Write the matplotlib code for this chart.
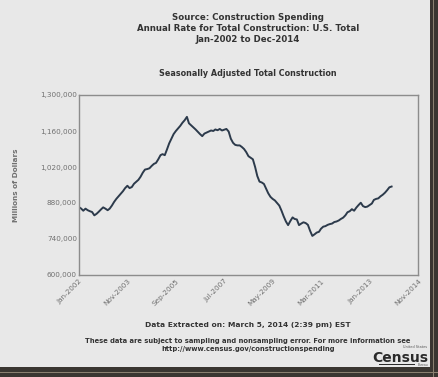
import matplotlib

matplotlib.use("Agg")
import matplotlib.pyplot as plt  # noqa: E402
import matplotlib.ticker as mticker  # noqa: E402
import pandas as pd  # noqa: E402
from matplotlib.patches import Rectangle  # noqa: E402

# monthly total construction spending, SAAR, thousands of millions
start_month = "2002-01"
spending_k = [
    864, 858, 850, 858, 852, 848, 845, 832, 838, 846, 855, 863,
    858, 852, 858, 870, 884, 896, 906, 916, 926, 938, 947, 938,
    942, 955, 962, 970, 982, 998, 1010, 1012, 1015, 1024, 1032, 1036,
    1050, 1066, 1070, 1066, 1088, 1112, 1130, 1148, 1160, 1170, 1180, 1192,
    1202, 1215, 1190, 1182, 1174, 1166, 1157, 1148, 1140, 1150, 1154, 1158,
    1162, 1160, 1166, 1163, 1168, 1162, 1165, 1168, 1158, 1130, 1114, 1106,
    1104, 1104, 1098, 1090, 1078, 1062, 1056, 1050, 1020, 985, 963, 960,
    954, 935, 918, 904, 896, 890, 880, 870, 850, 828, 808, 794,
    810, 824, 818, 816, 794, 800, 805, 802, 795, 772, 752, 758,
    765, 768, 780, 788, 790, 795, 798, 800, 806, 808, 812, 818,
    823, 832, 844, 848, 856, 850, 862, 872, 881, 868, 864, 866,
    872, 878, 892, 896, 898, 906, 912, 920, 930, 941, 944,
]
x_tick_labels = ["Jan-2002", "Nov-2003", "Sep-2005", "Jul-2007",
                 "May-2009", "Mar-2011", "Jan-2013", "Nov-2014"]
y_ticks = [600000, 740000, 880000, 1020000, 1160000, 1300000]

title_lines = [
    "Source: Construction Spending",
    "Annual Rate for Total Construction: U.S. Total",
    "Jan-2002 to Dec-2014",
]
chart_title = "Seasonally Adjusted Total Construction"
extracted_note = "Data Extracted on: March 5, 2014 (2:39 pm) EST"
footnote_lines = [
    "These data are subject to sampling and nonsampling error. For more information see",
    "http://www.census.gov/constructionspending",
]

BG = "#e8e8e8"
TEXT = "#333333"
TICK = "#707070"

dates = pd.date_range(start_month, periods=len(spending_k), freq="MS")
values = [v * 1000 for v in spending_k]
tick_dates = [pd.to_datetime(lbl, format="%b-%Y") for lbl in x_tick_labels]

fig = plt.figure(figsize=(4.39, 3.77), dpi=100, facecolor=BG)

# dark picture-frame edge on the right and bottom
fig.patches.append(Rectangle((430 / 439, 0), 9 / 439, 1, transform=fig.transFigure,
                             facecolor="#3a3631", edgecolor="none", zorder=0))
fig.patches.append(Rectangle((0, 0), 1, 10 / 377, transform=fig.transFigure,
                             facecolor="#3a3631", edgecolor="none", zorder=0))
fig.patches.append(Rectangle((433 / 439, 0), 1.5 / 439, 1, transform=fig.transFigure,
                             facecolor="#8a8070", edgecolor="none", zorder=0))
fig.patches.append(Rectangle((0, 4 / 377), 1, 1.5 / 377, transform=fig.transFigure,
                             facecolor="#8a8070", edgecolor="none", zorder=0))

ax = fig.add_axes([79 / 439, 1 - 275 / 377, 339 / 439, 180 / 377])
ax.set_facecolor(BG)
ax.plot(dates, values, color="#2c3a4b", linewidth=1.4)

ax.set_xlim(tick_dates[0], tick_dates[-1])
ax.set_ylim(y_ticks[0], y_ticks[-1])
ax.set_xticks(tick_dates)
ax.set_xticklabels(x_tick_labels, rotation=45, ha="right", rotation_mode="anchor",
                   fontsize=5.2, color=TICK)
ax.set_yticks(y_ticks)
ax.yaxis.set_major_formatter(mticker.StrMethodFormatter("{x:,.0f}"))
ax.tick_params(axis="both", length=0, pad=2)
ax.tick_params(axis="y", labelsize=5.2, labelcolor=TICK, pad=1.5)
for spine in ax.spines.values():
    spine.set_color("#8c8c8c")
    spine.set_linewidth(1.0)

fig.text(16 / 439, 1 - 185 / 377, "Millions of Dollars", rotation=90, ha="center",
         va="center", fontsize=5.2, color=TICK, fontweight="bold")

for i, line in enumerate(title_lines):
    fig.text(248 / 439, 1 - (17 + 11.5 * i) / 377, line, ha="center", va="center",
             fontsize=6.2, fontweight="bold", color=TEXT)
fig.text(248 / 439, 1 - 73 / 377, chart_title, ha="center", va="center",
         fontsize=5.8, fontweight="bold", color=TEXT)
fig.text(248 / 439, 1 - 325 / 377, extracted_note, ha="center", va="center",
         fontsize=5.4, fontweight="bold", color=TEXT)
for i, line in enumerate(footnote_lines):
    fig.text(248 / 439, 1 - (341 + 8 * i) / 377, line, ha="center", va="center",
             fontsize=4.9, fontweight="bold", color=TEXT)

# census wordmark
fig.text(427 / 439, 1 - 347.5 / 377, "United States", ha="right", va="center",
         fontsize=2.5, color="#555555")
fig.text(428 / 439, 1 - 362 / 377, "Census", ha="right", va="baseline",
         fontsize=10, fontweight="bold", color="#2a2a2a")
fig.patches.append(Rectangle((379 / 439, 1 - 365 / 377), 36 / 439, 1.5 / 377,
                             transform=fig.transFigure, facecolor="#2a2a2a",
                             edgecolor="none"))
fig.text(428 / 439, 1 - 365.5 / 377, "Bureau", ha="right", va="center",
         fontsize=2.2, color="#555555")

fig.savefig("out.png", dpi=100, facecolor=BG)
